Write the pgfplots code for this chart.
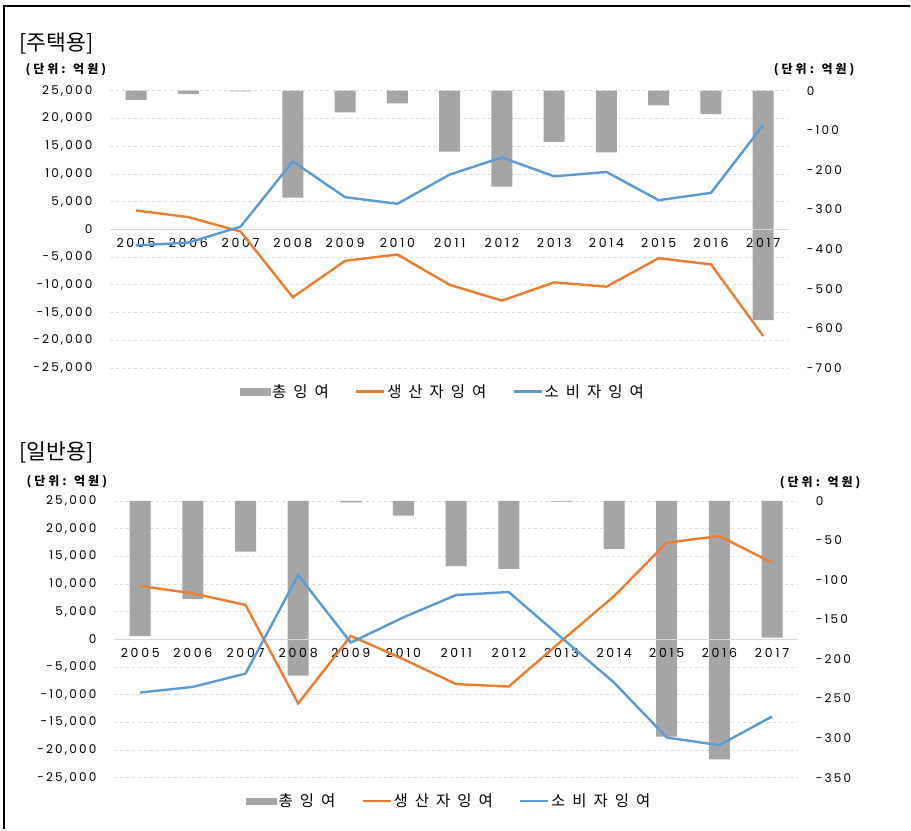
\documentclass[border=0pt]{standalone}
\usepackage{fontspec}
\usepackage{pgfplots}
\pgfplotsset{compat=1.18}
\setmainfont{Noto Sans CJK KR}
\newfontfamily\numfont[LetterSpace=18]{Poppins}
\newfontfamily\yrfont[LetterSpace=22]{Poppins}
\newfontfamily\kfont[LetterSpace=45]{Noto Sans CJK KR}
\newfontfamily\ufont[LetterSpace=25]{Noto Sans CJK KR}
\definecolor{barcol}{RGB}{165,165,165}
\definecolor{orn}{RGB}{237,125,49}
\definecolor{blu}{RGB}{91,155,213}

\pgfplotsset{
  geom/.style={scale only axis, width=#1, xmin=-0.5, xmax=12.5},
  tickfont/.style={font=\numfont\fontsize{12}{12}\selectfont},
  gridax/.style={
    ymin=-25000, ymax=25000, ytick distance=5000,
    scaled y ticks=false,
    axis y line*=left, axis x line=none,
    y axis line style={draw=none},
    xtick=\empty,
    major tick length=0pt,
    ymajorgrids, major grid style={dashed, gray!28, line width=0.6pt},
    yticklabel style={tickfont, xshift=-14pt},
    /pgf/number format/1000 sep={,},
    /pgf/number format/assume math mode=true,
  },
  rightax/.style={
    axis y line*=right, axis x line=none,
    y axis line style={draw=none}, major tick length=0pt,
    yticklabel style={tickfont, xshift=14pt},
    /pgf/number format/assume math mode=true,
    ybar, bar width=21pt,
  },
  lineax/.style={
    ymin=-25000, ymax=25000,
    axis x line*=middle, axis y line=none,
    x axis line style={draw=none},
    ytick=\empty,
    xtick={0,...,12},
    xticklabels={2005,2006,2007,2008,2009,2010,2011,2012,2013,2014,2015,2016,2017},
    major tick length=0pt,
    xticklabel style={font=\yrfont\fontsize{12.5}{12.5}\selectfont, yshift=-5pt},
    legend columns=3,
    legend style={draw=none, fill=none, at={(0.49,-0.085)}, anchor=center,
      font=\kfont\fontsize{15.5}{15.5}\selectfont,
      /tikz/every even column/.append style={column sep=24pt}},
    legend image code/.code={\draw[##1] (0pt,0pt) -- (28pt,0pt);},
  },
}

\begin{document}
\begin{tikzpicture}
\path (0pt,0pt) rectangle (911pt,-830pt);
\draw[black, line width=1.5pt] (4pt,-830pt) -- (4pt,-6pt) -- (911pt,-6pt);

% ===== Top panel: 주택용 =====
\node[anchor=west, font=\fontsize{21.5}{21.5}\selectfont] at (16pt,-43pt) {[주택용]};
\node[anchor=west, font=\ufont\bfseries\fontsize{12}{12}\selectfont] at (22pt,-70pt) {(단위: 억원)};
\node[anchor=west, font=\ufont\bfseries\fontsize{12}{12}\selectfont] at (771pt,-70pt) {(단위: 억원)};

\begin{axis}[geom=680pt, height=277.6pt, at={(110pt,-368.3pt)}, anchor=south west, gridax]
\end{axis}

\begin{axis}[geom=680pt, height=277.6pt, at={(110pt,-368.3pt)}, anchor=south west,
  rightax, ymin=-700, ymax=0, ytick distance=100]
\addplot[fill=barcol, draw=none] coordinates {
(0,-23) (1,-8) (2,-2) (3,-270) (4,-55) (5,-32) (6,-154)
(7,-242) (8,-129) (9,-156) (10,-37) (11,-59) (12,-579)};
\end{axis}

\begin{axis}[geom=680pt, height=277.6pt, at={(110pt,-368.3pt)}, anchor=south west, lineax]
\draw[gray!30, line width=0.8pt] (axis cs:-0.5,0) -- (axis cs:12.5,0);
\addlegendimage{legend image code/.code={\fill[barcol] (0pt,-3.3pt) rectangle (30pt,3.3pt);}}
\addplot[orn, line width=2.4pt] coordinates {
(0,3400) (1,2200) (2,-400) (3,-12240) (4,-5680) (5,-4540) (6,-10000)
(7,-12850) (8,-9560) (9,-10340) (10,-5200) (11,-6330) (12,-19230)};
\addplot[blu, line width=2.4pt] coordinates {
(0,-2900) (1,-2400) (2,480) (3,12240) (4,5790) (5,4600) (6,9860)
(7,12960) (8,9550) (9,10340) (10,5250) (11,6570) (12,18800)};
\legend{총잉여,생산자잉여,소비자잉여}
\end{axis}

% ===== Bottom panel: 일반용 =====
\node[anchor=west, font=\fontsize{21.5}{21.5}\selectfont] at (16pt,-453pt) {[일반용]};
\node[anchor=west, font=\ufont\bfseries\fontsize{12}{12}\selectfont] at (23pt,-482pt) {(단위: 억원)};
\node[anchor=west, font=\ufont\bfseries\fontsize{12}{12}\selectfont] at (777pt,-483pt) {(단위: 억원)};

\begin{axis}[geom=685pt, height=277pt, at={(114pt,-778.3pt)}, anchor=south west, gridax]
\end{axis}

\begin{axis}[geom=685pt, height=277pt, at={(114pt,-778.3pt)}, anchor=south west,
  rightax, ymin=-350, ymax=0, ytick distance=50]
\addplot[fill=barcol, draw=none] coordinates {
(0,-171) (1,-124) (2,-64) (3,-221) (4,-2) (5,-18.6) (6,-82.6)
(7,-86) (8,-1) (9,-60.6) (10,-298) (11,-327) (12,-173)};
\end{axis}

\begin{axis}[geom=685pt, height=277pt, at={(114pt,-778.3pt)}, anchor=south west, lineax]
\draw[gray!30, line width=0.8pt] (axis cs:-0.5,0) -- (axis cs:12.5,0);
\addlegendimage{legend image code/.code={\fill[barcol] (0pt,-3.3pt) rectangle (30pt,3.3pt);}}
\addplot[orn, line width=2.4pt] coordinates {
(0,9620) (1,8300) (2,6200) (3,-11600) (4,600) (5,-3600) (6,-8100)
(7,-8540) (8,-300) (9,7800) (10,17450) (11,18650) (12,13840)};
\addplot[blu, line width=2.4pt] coordinates {
(0,-9620) (1,-8600) (2,-6200) (3,11600) (4,-600) (5,3970) (6,8000)
(7,8540) (8,300) (9,-7820) (10,-17750) (11,-19130) (12,-13950)};
\legend{총잉여,생산자잉여,소비자잉여}
\end{axis}
\end{tikzpicture}
\end{document}
